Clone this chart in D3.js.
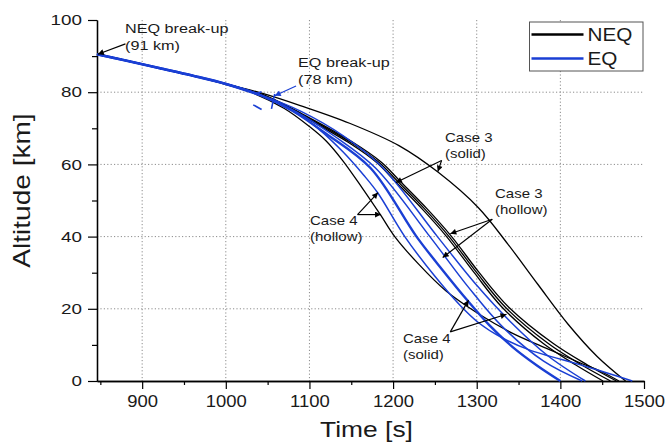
<!DOCTYPE html>
<html>
<head>
<meta charset="utf-8">
<script src="https://cdn.jsdelivr.net/npm/d3@7"></script>
<style>
  body { margin: 0; background: #fff; }
  svg { display: block; font-family: "Liberation Sans", Arial, sans-serif; }
</style>
</head>
<body>
<svg id="chart" width="667" height="442"></svg>
<script>
// axis ticks
const xTicks = [900, 1000, 1100, 1200, 1300, 1400, 1500];
const xMinor = [850, 950, 1050, 1150, 1250, 1350, 1450];
const yTicks = [0, 20, 40, 60, 80, 100];
const yMinor = [10, 30, 50, 70, 90];
const xGrid = [900, 1000, 1100, 1200, 1300, 1400];
const yGrid = [20, 40, 60, 80];

// shared trajectory before break-up (time s, altitude km)
const commonPath = [[846, 90.5], [880, 88.8], [920, 86.7], [960, 84.6]];

// NEQ curves (black)
const neqA = [[990, 82.8], [1030, 80], [1070, 75.5], [1100, 70.5], [1120, 66.5], [1140, 61], [1163, 53.5], [1185, 46], [1202, 40], [1230, 32.5], [1263, 25], [1303, 18.5], [1343, 13.2], [1382, 9.2], [1422, 5.2], [1450, 2.5], [1470, 0]];
const neqB = [[1000, 82.3], [1050, 78.6], [1100, 72.3], [1150, 65.6], [1180, 60.6], [1203, 55.2], [1235, 47.6], [1264, 40], [1297, 30], [1330, 20.5], [1380, 10.3], [1418, 4.5], [1451, 0]];
const neqC = [[1000, 82.3], [1050, 78.7], [1100, 72.6], [1150, 66], [1183, 60.6], [1206, 55.2], [1238, 47.6], [1267, 40], [1300, 30], [1334, 20.5], [1386, 10.3], [1425, 4.5], [1460, 0]];
const neqD = [[1000, 82.3], [1050, 78.8], [1100, 72.9], [1150, 66.4], [1186, 60.6], [1209, 55.2], [1241, 47.6], [1270, 40], [1303, 30], [1338, 20.5], [1392, 10.3], [1432, 4.5], [1467, 0]];
const neqE = [[1000, 82.3], [1045, 79.6], [1089, 76.3], [1148, 71.4], [1207, 65.2], [1254, 57.8], [1302, 48], [1337, 38], [1373, 26.8], [1409, 15.8], [1444, 6.8], [1478, 0]];

// EQ curves (blue)
const eqA = [[1000, 82.3], [1040, 79.3], [1080, 74.8], [1110, 70], [1140, 63.5], [1165, 57], [1182, 52], [1214, 40], [1250, 29], [1280, 21], [1303, 16], [1330, 12], [1362, 8.7], [1422, 4.6], [1455, 2.3], [1486, 0]];
const eqB = [[1000, 82.3], [1040, 79.3], [1080, 74.8], [1120, 68.5], [1173, 59], [1228, 40], [1260, 30.5], [1289, 22.3], [1315, 15.5], [1343, 9.4], [1372, 4.3], [1400, 0]];
const eqC = [[1000, 82.3], [1040, 79.3], [1085, 74.5], [1130, 67.8], [1179, 59], [1244, 40], [1290, 26], [1330, 15.2], [1380, 5.5], [1426, 0]];
const eqD = [[1000, 82.3], [1040, 79.4], [1090, 74.7], [1140, 68], [1186, 59.5], [1253, 40], [1300, 26.5], [1340, 16.5], [1385, 7], [1430, 0]];

// little blue marks at the EQ break-up point
const eqBreakMarks = [
  [[1034.8, 79.4], [1042.8, 80.1]],
  [[1032.8, 76.5], [1042.8, 75.2]],
  [[1058.5, 79.5], [1056.8, 77.8], [1054.6, 75.4]]
];

const legendItems = ['NEQ', 'EQ'];

const width = 667, height = 442;
const margin = { top: 20, right: 23, bottom: 61, left: 97 };
const BLUE = '#1a3fd4';

const svg = d3.select('#chart');

const x = d3.scaleLinear().domain([846, 1500]).range([margin.left, width - margin.right]);
const y = d3.scaleLinear().domain([0, 100]).range([height - margin.bottom, margin.top]);

// grid
svg.append('g').selectAll('line').data(xGrid).join('line')
  .attr('x1', d => x(d)).attr('x2', d => x(d))
  .attr('y1', y(100)).attr('y2', y(0))
  .attr('stroke', '#8c8c8c').attr('stroke-width', 1).attr('stroke-dasharray', '1.2,2.2');
svg.append('g').selectAll('line').data(yGrid).join('line')
  .attr('x1', x(846)).attr('x2', x(1500))
  .attr('y1', d => y(d)).attr('y2', d => y(d))
  .attr('stroke', '#8c8c8c').attr('stroke-width', 1).attr('stroke-dasharray', '1.2,2.2');

// axes
const xAxis = svg.append('g').attr('transform', `translate(0,${y(0)})`)
  .call(d3.axisBottom(x).tickValues(xTicks).tickFormat(d3.format('d')).tickSize(8).tickSizeOuter(0).tickPadding(6));
svg.append('g').attr('transform', `translate(0,${y(0)})`)
  .call(d3.axisBottom(x).tickValues(xMinor).tickSize(4).tickSizeOuter(0).tickFormat(''));
const yAxis = svg.append('g').attr('transform', `translate(${x(846)},0)`)
  .call(d3.axisLeft(y).tickValues(yTicks).tickSize(9).tickSizeOuter(0).tickPadding(6));
svg.append('g').attr('transform', `translate(${x(846)},0)`)
  .call(d3.axisLeft(y).tickValues(yMinor).tickSize(5).tickSizeOuter(0).tickFormat(''));

svg.selectAll('.domain').attr('stroke', '#000').attr('stroke-width', 1.3);
svg.selectAll('.tick line').attr('stroke', '#000').attr('stroke-width', 1.2);

xAxis.selectAll('text')
  .attr('font-size', 16.5).attr('fill', '#1a1a1a')
  .attr('font-family', '"Liberation Sans", Arial, sans-serif')
  .attr('transform', 'scale(1.12,1)');
yAxis.selectAll('text')
  .attr('font-size', 14.5).attr('fill', '#1a1a1a')
  .attr('font-family', '"Liberation Sans", Arial, sans-serif')
  .attr('x', -15 / 1.3)
  .attr('transform', 'scale(1.3,1)');

// axis titles
svg.append('text')
  .attr('transform', `translate(${(x(846) + x(1500)) / 2 - 4},437) scale(1.2,1)`)
  .attr('text-anchor', 'middle').attr('font-size', 22).attr('fill', '#1a1a1a')
  .text('Time [s]');
svg.append('text')
  .attr('transform', `translate(30,${(y(0) + y(100)) / 2 - 10}) rotate(-90) scale(1.22,1)`)
  .attr('text-anchor', 'middle').attr('font-size', 23).attr('fill', '#1a1a1a')
  .text('Altitude [km]');

// curves
const line = d3.line().x(d => x(d[0])).y(d => y(d[1])).curve(d3.curveCatmullRom.alpha(0.5));
const withStart = pts => commonPath.concat(pts);

const curves = svg.append('g').attr('fill', 'none');
[neqA, neqB, neqC, neqD, neqE].forEach(c => {
  curves.append('path').attr('d', line(withStart(c)))
    .attr('stroke', '#000').attr('stroke-width', 1.3);
});
[eqA, eqC, eqD].forEach(c => {
  curves.append('path').attr('d', line(withStart(c)))
    .attr('stroke', BLUE).attr('stroke-width', 1.5);
});
curves.append('path').attr('d', line(withStart(eqB)))
  .attr('stroke', BLUE).attr('stroke-width', 2.4);
// blue shared part on top
curves.append('path').attr('d', line(withStart(eqB.slice(0, 2))))
  .attr('stroke', BLUE).attr('stroke-width', 2.6);

const markLine = d3.line().x(d => x(d[0])).y(d => y(d[1]));
eqBreakMarks.forEach(m => {
  curves.append('path').attr('d', markLine(m)).attr('stroke', BLUE).attr('stroke-width', 1.6);
});

// arrow heads
const defs = svg.append('defs');
[['arrBlack', '#000'], ['arrBlue', BLUE]].forEach(([id, col]) => {
  defs.append('marker').attr('id', id)
    .attr('viewBox', '0 0 10 10').attr('refX', 10).attr('refY', 5)
    .attr('markerWidth', 9).attr('markerHeight', 6)
    .attr('markerUnits', 'userSpaceOnUse').attr('orient', 'auto')
    .append('path').attr('d', 'M0,0L10,5L0,10Z').attr('fill', col);
});

function arrow(from, to, col, marker) {
  svg.append('line')
    .attr('x1', x(from[0])).attr('y1', y(from[1]))
    .attr('x2', x(to[0])).attr('y2', y(to[1]))
    .attr('stroke', col).attr('stroke-width', 1.2)
    .attr('marker-end', `url(#${marker})`);
}

function label(lines, px, py, size, col) {
  lines.forEach((t, i) => {
    svg.append('text')
      .attr('transform', `translate(${px},${py + i * (size * 1.28)}) scale(1.2,1)`)
      .attr('font-size', size).attr('fill', col || '#1a1a1a')
      .text(t);
  });
}

// break-up annotations
label(['NEQ break-up', '(91 km)'], 125, 32.5, 13.5);
arrow([880, 93.4], [847, 90.5], '#000', 'arrBlack');
label(['EQ break-up', '(78 km)'], 298, 66.5, 13.5);
arrow([1084, 81.7], [1058.5, 79], BLUE, 'arrBlue');

// case annotations
label(['Case 3', '(solid)'], 445, 141.5, 12.5);
arrow([1258, 61.1], [1203.4, 55], '#000', 'arrBlack');
arrow([1258, 61.1], [1253.5, 58], '#000', 'arrBlack');

label(['Case 3', '(hollow)'], 495, 197.5, 12.5);
arrow([1318.6, 44.8], [1268.4, 40.8], '#000', 'arrBlack');
arrow([1318.6, 44.8], [1259.3, 34.2], '#000', 'arrBlack');

label(['Case 4', '(hollow)'], 310, 225, 12.5);
arrow([1157.5, 46.1], [1182, 52.2], '#000', 'arrBlack');
arrow([1157.5, 46.1], [1185.6, 46.1], '#000', 'arrBlack');

label(['Case 4', '(solid)'], 403, 342.5, 12.5);
arrow([1268.4, 13.6], [1290.2, 22.4], '#000', 'arrBlack');
arrow([1268.4, 13.6], [1335.6, 18.5], '#000', 'arrBlack');

// legend
const lg = svg.append('g').attr('transform', 'translate(529.5,22)');
lg.append('rect').attr('width', 113.5).attr('height', 49)
  .attr('fill', '#fff').attr('stroke', '#555').attr('stroke-width', 1);
legendItems.forEach((name, i) => {
  const ly = 12.5 + i * 24;
  lg.append('line').attr('x1', 2).attr('x2', 54).attr('y1', ly).attr('y2', ly)
    .attr('stroke', i === 0 ? '#000' : BLUE).attr('stroke-width', 2.6);
  lg.append('text')
    .attr('transform', `translate(58,${ly + 6.5}) scale(1.15,1)`)
    .attr('font-size', 18).attr('fill', '#1a1a1a')
    .text(name);
});
</script>
</body>
</html>
